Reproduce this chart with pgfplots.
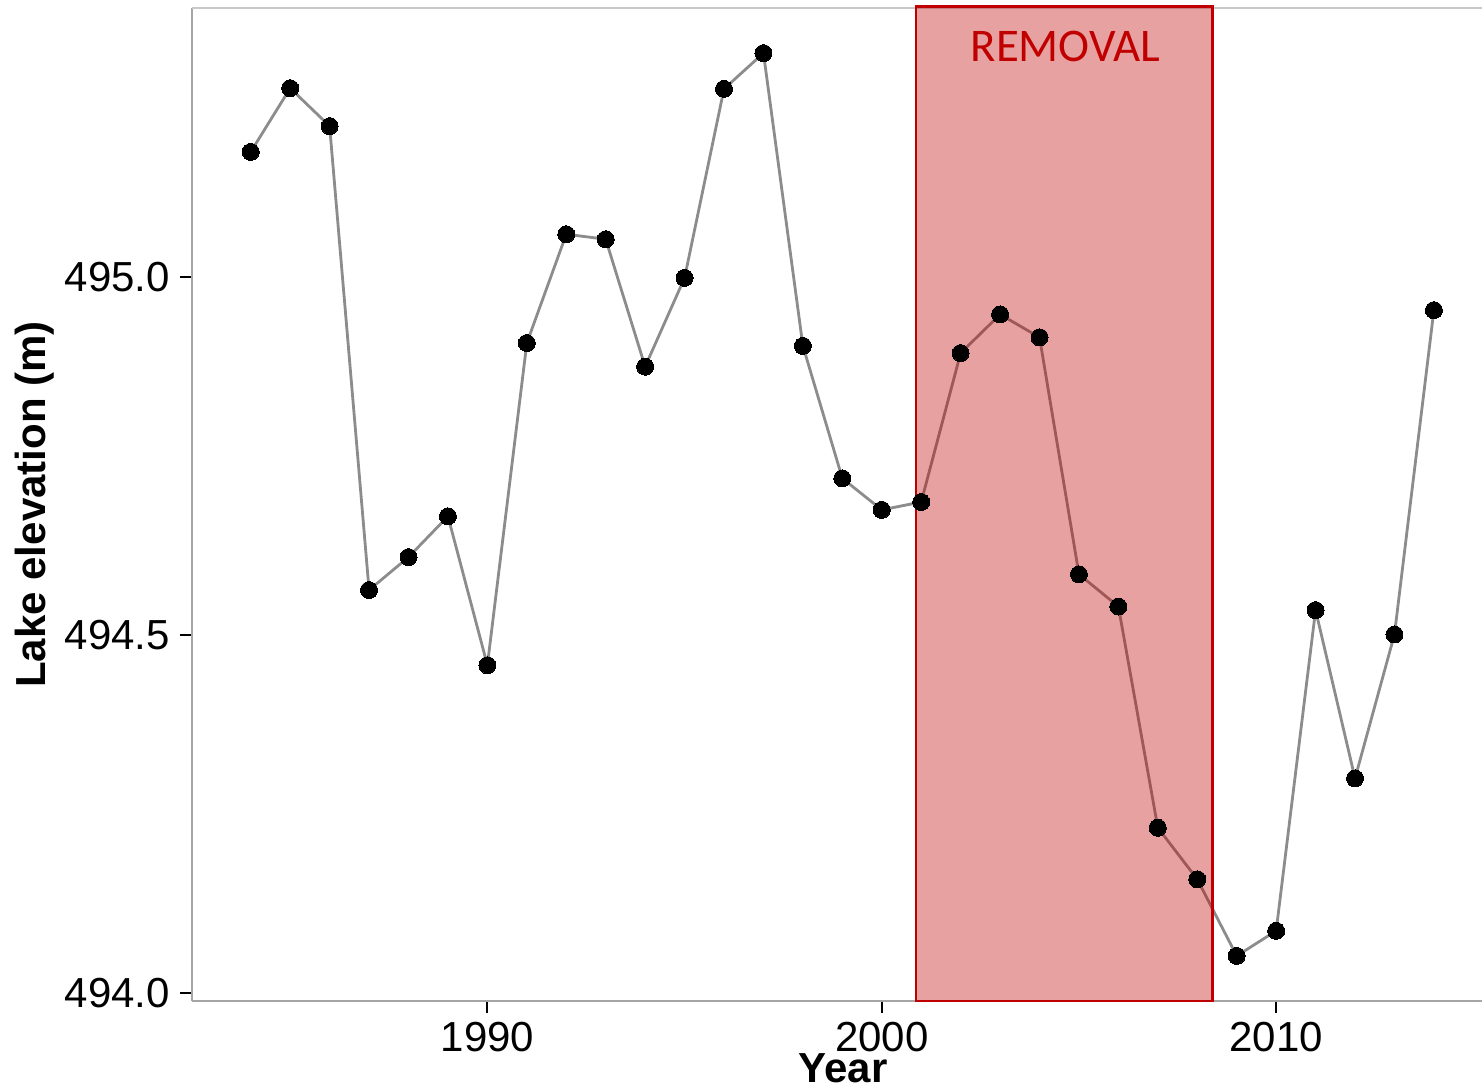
\documentclass[border=0pt]{standalone}
\usepackage{fontspec}
\setmainfont{Liberation Sans}
\newfontfamily\calibri{Carlito}
\usepackage{pgfplots}
\pgfplotsset{compat=1.18}
\definecolor{remred}{RGB}{192,0,0}
\definecolor{linegray}{RGB}{140,140,140}
\definecolor{axgray}{RGB}{165,165,165}
\definecolor{topgray}{RGB}{200,200,200}
\begin{document}
\begin{tikzpicture}
\begin{axis}[
  name=ax,
  scale only axis,
  width=645pt, height=496.5pt,
  xmin=1982.51, xmax=2015.22,
  ymin=493.989, ymax=495.376,
  axis x line*=bottom, axis y line*=left,
  axis line style={draw=axgray, line width=1pt},
  clip=false,
  xtick={1990,2000,2010}, xticklabels={1990,2000,2010},
  ytick={494,494.5,495}, yticklabels={494.0,494.5,495.0},
  tick align=outside,
  major tick length=6pt,
  tick style={black, line width=0.9pt},
  ticklabel style={font=\fontsize{21}{21}\selectfont},
  yticklabel style={anchor=east, inner sep=0pt, xshift=-4.8pt},
  xticklabel style={anchor=north, inner sep=0pt, yshift=-4.5pt},
  xlabel={Year}, ylabel={Lake elevation (m)},
  label style={font=\bfseries\fontsize{21}{21}\selectfont},
  xlabel style={at={(axis description cs:0.5047,0)}, anchor=base, yshift=-40.5pt, inner sep=0pt},
  ylabel style={at={(axis description cs:-0.1218,0.5)}, anchor=center, inner sep=0pt},
]
\draw[topgray, line width=1pt] (rel axis cs:0,1) -- (rel axis cs:1,1);
\addplot[linegray, line width=1.4pt, mark=*, mark size=4.25pt,
  mark options={fill=black, draw=black, line width=0pt}] coordinates {
(1984,495.175) (1985,495.264) (1986,495.211) (1987,494.563) (1988,494.609)
(1989,494.666) (1990,494.458) (1991,494.908) (1992,495.060) (1993,495.053)
(1994,494.875) (1995,494.999) (1996,495.263) (1997,495.313) (1998,494.904)
(1999,494.719) (2000,494.675) (2001,494.686) (2002,494.894) (2003,494.948)
(2004,494.916) (2005,494.585) (2006,494.540) (2007,494.231) (2008,494.159)
(2009,494.052) (2010,494.087) (2011,494.535) (2012,494.300) (2013,494.501)
(2014,494.954)
};
\fill[remred, opacity=0.37] (axis cs:2000.87,493.989) rectangle (axis cs:2008.39,495.378);
\draw[remred, line width=1.2pt] (axis cs:2000.87,493.989) rectangle (axis cs:2008.39,495.378);
\node[anchor=base, text=remred, inner sep=0pt, font=\calibri\fontsize{23.4}{23.4}\selectfont] at (axis cs:2004.66,495.3007) {REMOVAL};
\end{axis}
\pgfresetboundingbox
\path[use as bounding box] ([xshift=-96pt,yshift=-43pt]ax.south west) rectangle ([yshift=4pt]ax.north east);
\end{tikzpicture}
\end{document}
